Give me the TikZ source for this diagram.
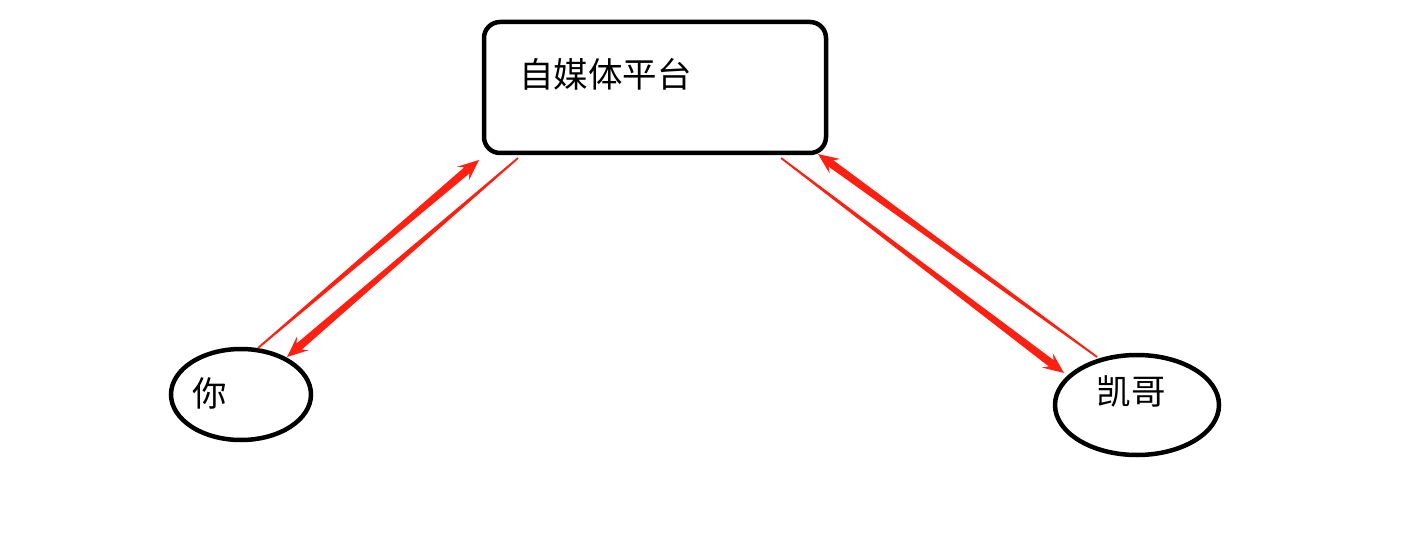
\documentclass[tikz,border=0pt]{standalone}
\usepackage{fontspec}
\newfontfamily\cjk{Noto Sans CJK SC}
\usetikzlibrary{shapes.geometric,calc}
\definecolor{arrowred}{RGB}{255,32,18}
\tikzset{
  box/.style={draw=black,line width=4.5pt,rounded corners=16pt,minimum width=342pt,minimum height=131pt,inner sep=0pt},
  oval/.style={draw=black,line width=4.5pt,ellipse,inner sep=0pt},
  lbl/.style={font=\cjk\fontsize{34.5}{40}\selectfont,inner sep=0pt,text=black},
}
\newcommand\taperarrow[2]{%
  \coordinate (nk) at ($(#2)!16pt!(#1)$);
  \coordinate (wg) at ($(#2)!21pt!(#1)$);
  \fill[arrowred] ($(#1)!0.9pt!90:(#2)$) -- ($(nk)!4pt!90:(#2)$) -- ($(wg)!9pt!90:(#2)$) -- (#2)
    -- ($(wg)!9pt!-90:(#2)$) -- ($(nk)!4pt!-90:(#2)$) -- ($(#1)!0.9pt!-90:(#2)$) -- cycle;
}
\begin{document}
\begin{tikzpicture}[x=1pt,y=-1pt]
\useasboundingbox (0,0) rectangle (1418,540);
\node[box] (plat) at (655,87.5) {};
\node[lbl,anchor=west] (platt) at (519,74) {自媒体平台};
\node[oval,minimum width=140pt,minimum height=91pt] (you) at (241,394.5) {};
\node[lbl] (yout) at (210,393) {你};
\node[oval,minimum width=164pt,minimum height=100pt] (kai) at (1137,405) {};
\node[lbl] (kait) at (1131,391) {凯哥};
% connector end points on node borders
\coordinate (y1) at (258,348);
\coordinate (p1) at (479,160);
\coordinate (p2) at (518,158);
\coordinate (y2) at (287,357);
\coordinate (p3) at (781,158);
\coordinate (k1) at (1064,373);
\coordinate (k2) at (1097,357);
\coordinate (p4) at (818,154);
\taperarrow{y1}{p1}
\taperarrow{p2}{y2}
\taperarrow{p3}{k1}
\taperarrow{k2}{p4}
\end{tikzpicture}
\end{document}
